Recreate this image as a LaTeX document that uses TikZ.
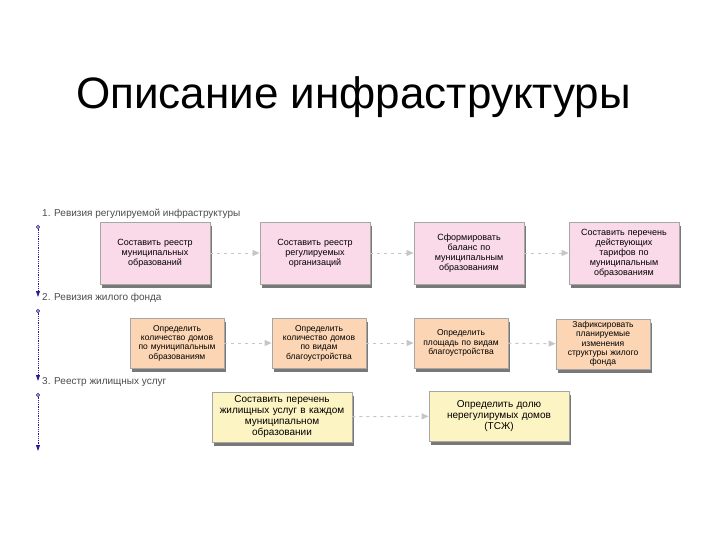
\documentclass[tikz,border=0pt]{standalone}
\usepackage{fontspec}
\setmainfont{Liberation Sans}
\usetikzlibrary{arrows.meta,shadows}
\definecolor{pinkb}{RGB}{250,218,232}
\definecolor{peachb}{RGB}{252,214,180}
\definecolor{yelb}{RGB}{253,244,196}
\definecolor{tl}{RGB}{40,30,150}
\begin{document}
\begin{tikzpicture}[x=1pt,y=-1pt,
  box/.style={draw=gray!70,line width=0.8pt,align=center,font=\fontsize{9}{10}\selectfont,inner sep=1pt,
    drop shadow={shadow xshift=2pt,shadow yshift=-4pt,fill=black!70,opacity=0.75}},
  flow/.style={draw=gray!45,line width=1pt,dash pattern=on 3pt off 4pt,-{Triangle[length=7pt,width=6pt,fill=gray!45]}},
  tline/.style={draw=tl,line width=0.8pt,densely dotted,{Circle[open,length=4pt,fill=white]}-{Triangle[length=6pt,width=4pt]}},
  lab/.style={anchor=west,font=\fontsize{10}{11}\selectfont,text=black!70,inner sep=0pt}]
\useasboundingbox[fill=white] (0,0) rectangle (720,540);
\node[anchor=west,font=\fontsize{44}{48}\selectfont,inner sep=0pt] (title) at (76,97) {Описание инфраструктуры};
% timeline
\coordinate (t1a) at (38,225); \coordinate (t1b) at (38,297);
\coordinate (t2a) at (38,309); \coordinate (t2b) at (38,381);
\coordinate (t3a) at (38,393); \coordinate (t3b) at (38,451);
\draw[tline] (t1a) -- (t1b);
\draw[tline] (t2a) -- (t2b);
\draw[tline] (t3a) -- (t3b);
\node[lab] (l1) at (42,214) {1. Ревизия регулируемой инфраструктуры};
\node[lab] (l2) at (42,298) {2. Ревизия жилого фонда};
\node[lab] (l3) at (42,382) {3. Реестр жилищных услуг};
% row 1
\tikzset{r1/.style={box,fill=pinkb,minimum width=110pt,minimum height=62pt,text width=106pt}}
\node[r1] (a1) at (155,253) {Составить реестр\\муниципальных\\образований};
\node[r1] (a2) at (315,253) {Составить реестр\\регулируемых\\организаций};
\node[r1] (a3) at (469,253) {Сформировать\\баланс по\\муниципальным\\образованиям};
\node[r1] (a4) at (624,253) {Составить перечень\\действующих\\тарифов по\\муниципальным\\образованиям};
\draw[flow] (a1) -- (a2); \draw[flow] (a2) -- (a3); \draw[flow] (a3) -- (a4);
% row 2
\tikzset{r2/.style={box,fill=peachb,minimum width=94pt,minimum height=50pt,text width=92pt,font=\fontsize{8.5}{9.3}\selectfont}}
\node[r2] (b1) at (177,343) {Определить\\количество домов\\по муниципальным\\образованиям};
\node[r2] (b2) at (319,343) {Определить\\количество домов\\по видам\\благоустройства};
\node[r2] (b3) at (461,343) {Определить\\площадь по видам\\благоустройства};
\node[r2] (b4) at (603,344) {Зафиксировать\\планируемые\\изменения\\структуры жилого\\фонда};
\draw[flow] (b1) -- (b2); \draw[flow] (b2) -- (b3); \draw[flow] (b3) -- (b4);
% row 3
\tikzset{r3/.style={box,fill=yelb,minimum width=140pt,minimum height=50pt,text width=136pt,font=\fontsize{10}{11}\selectfont}}
\node[r3] (c1) at (282,417) {Составить перечень\\жилищных услуг в каждом\\муниципальном\\образовании};
\node[r3] (c2) at (499,416) {Определить долю\\нерегулирумых домов\\(ТСЖ)};
\draw[flow] (c1) -- (c2);
\end{tikzpicture}
\end{document}
